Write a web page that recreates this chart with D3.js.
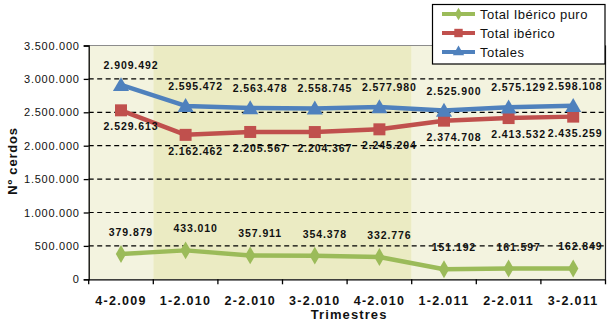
<!DOCTYPE html>
<html>
<head>
<meta charset="utf-8">
<script src="https://cdn.jsdelivr.net/npm/d3@7/dist/d3.min.js"></script>
<style>
  body { margin: 0; background: #fff; }
  svg { display: block; font-family: "Liberation Sans", Arial, sans-serif; }
</style>
</head>
<body>
<svg id="chart" width="612" height="325"></svg>
<script>
// quarters on the x axis
var categories = ["4-2.009", "1-2.010", "2-2.010", "3-2.010", "4-2.010", "1-2.011", "2-2.011", "3-2.011"];
var yTicks = [0, 500000, 1000000, 1500000, 2000000, 2500000, 3000000, 3500000];

var puroValues = [379879, 433010, 357911, 354378, 332776, 151192, 161597, 162849];
var ibericoValues = [2529613, 2162462, 2205567, 2204367, 2245204, 2374708, 2413532, 2435259];
var totalesValues = [2909492, 2595472, 2563478, 2558745, 2577980, 2525900, 2575129, 2598108];

var seriesNames = ["Total Ibérico puro", "Total ibérico", "Totales"];

/** spanish number format : 2.909.492 */
var esFormat = d3.formatLocale({decimal: ",", thousands: ".", grouping: [3], currency: ["", ""]}).format(",d");

var svg = d3.select("#chart");
var plotLeft = 88.7, plotRight = 605.5, plotTop = 45.5, plotBottom = 279.3;
var fontFam = "'Liberation Sans', Arial, sans-serif";

var x = d3.scaleBand().domain(categories).range([plotLeft, plotRight]);
var y = d3.scaleLinear().domain([0, 3500000]).range([plotBottom, plotTop]);

// background bands, one per year
var years = [];
categories.forEach(function(c){
	var yr = c.split("-")[1];
	var b = years.find(function(d){return d.year === yr;});
	if(!b){ years.push({year: yr, first: c, last: c}); }
	else { b.last = c; }
});
svg.append("g").selectAll("rect").data(years).enter().append("rect")
	.attr("x", function(d){return x(d.first);})
	.attr("y", plotTop)
	.attr("width", function(d){return x(d.last) + x.bandwidth() - x(d.first);})
	.attr("height", plotBottom - plotTop)
	.attr("fill", function(d, i){return i % 2 === 1 ? "#ebebc3" : "#f3f3df";});

// grid lines
svg.append("g").selectAll("line").data(yTicks.filter(function(v){return v > 0 && v < 3500000;})).enter().append("line")
	.attr("x1", plotLeft).attr("x2", plotRight)
	.attr("y1", function(d){return y(d);}).attr("y2", function(d){return y(d);})
	.attr("stroke", "#000").attr("stroke-width", 1.2).attr("stroke-dasharray", "5,3.5");

// frame top and right
svg.append("line").attr("x1", plotLeft).attr("x2", plotRight).attr("y1", plotTop).attr("y2", plotTop)
	.attr("stroke", "#8c8c8c").attr("stroke-width", 1.2);
svg.append("line").attr("x1", plotRight).attr("x2", plotRight).attr("y1", plotTop).attr("y2", plotBottom)
	.attr("stroke", "#222").attr("stroke-width", 1.2);

// axes
var yAxis = svg.append("g").attr("transform", "translate(" + plotLeft + ",0)")
	.call(d3.axisLeft(y).tickValues(yTicks).tickFormat(esFormat).tickSize(5).tickPadding(4));
yAxis.attr("font-family", null).attr("font-size", null);
yAxis.select(".domain").attr("stroke", "#000").attr("stroke-width", 1.3);
yAxis.selectAll(".tick line").attr("stroke", "#000").attr("stroke-width", 1.3);
yAxis.selectAll("text").style("font-family", fontFam)
	.style("font-size", "11px").style("letter-spacing", "0.75px").attr("fill", "#111");

var xAxis = svg.append("g").attr("transform", "translate(0," + plotBottom + ")")
	.call(d3.axisBottom(x).tickSize(0).tickPadding(0));
xAxis.attr("font-family", null).attr("font-size", null);
xAxis.select(".domain").attr("stroke", "#000").attr("stroke-width", 1.3);
xAxis.selectAll(".tick text").style("font-family", fontFam)
	.style("font-size", "12.5px").style("font-weight", "bold").style("letter-spacing", "1.3px")
	.attr("fill", "#111").attr("y", 26).attr("dy", 0);
// ticks between categories
svg.append("g").selectAll("line").data(categories.concat(["end"])).enter().append("line")
	.attr("x1", function(d, i){return plotLeft + i * x.step();})
	.attr("x2", function(d, i){return plotLeft + i * x.step();})
	.attr("y1", plotBottom).attr("y2", plotBottom + 5)
	.attr("stroke", "#000").attr("stroke-width", 1.3);

// axis titles
svg.append("text").attr("x", (plotLeft + plotRight) / 2 + 2).attr("y", 319)
	.attr("text-anchor", "middle").style("font-size", "13px").style("font-weight", "bold")
	.style("letter-spacing", "1.1px").attr("fill", "#111").text("Trimestres");
svg.append("text").attr("transform", "translate(17,161) rotate(-90)")
	.attr("text-anchor", "middle").style("font-size", "13px").style("font-weight", "bold")
	.style("letter-spacing", "0.8px").attr("fill", "#111").text("Nº cerdos");

var series = [
	{name: seriesNames[0], values: puroValues, color: "#9bbb59", marker: "diamond", labelDy: -22},
	{name: seriesNames[1], values: ibericoValues, color: "#c0504d", marker: "square", labelDy: 16},
	{name: seriesNames[2], values: totalesValues, color: "#4f81bd", marker: "triangle", labelDy: -20}
];

function markerPath(type, s){
	if(type === "square") return d3.symbol().type(d3.symbolSquare).size(s * s)();
	if(type === "triangle") return d3.symbol().type(d3.symbolTriangle).size(s * s * 0.5)();
	return d3.symbol().type(d3.symbolDiamond).size(s * s * 0.55)();
}
var markerSize = {square: 12, triangle: 15, diamond: 13};

var line = d3.line()
	.x(function(d, i){return x(categories[i]) + x.bandwidth() / 2;})
	.y(function(d){return y(d);});

series.forEach(function(s){
	var g = svg.append("g");
	g.append("path").attr("d", line(s.values)).attr("fill", "none")
		.attr("stroke", s.color).attr("stroke-width", 4.5).attr("stroke-linejoin", "round");
	g.selectAll("path.m").data(s.values).enter().append("path").attr("class", "m")
		.attr("d", markerPath(s.marker, markerSize[s.marker]))
		.attr("transform", function(d, i){
			var dy = s.marker === "triangle" ? 1.5 : 0;
			return "translate(" + (x(categories[i]) + x.bandwidth() / 2) + "," + (y(d) + dy) + ")";
		})
		.attr("fill", s.color);
});

// data labels, kept inside the plot on the right side
series.forEach(function(s){
	svg.append("g").selectAll("text").data(s.values).enter().append("text")
		.attr("y", function(d){return y(d) + s.labelDy + 4;})
		.attr("text-anchor", "middle").style("font-size", "10.5px").style("font-weight", "bold")
		.style("letter-spacing", "0.9px").attr("fill", "#111")
		.text(function(d){return esFormat(d);})
		.attr("x", function(d, i){
			var cx = x(categories[i]) + x.bandwidth() / 2 + 10;
			var w = this.getComputedTextLength();
			return Math.min(cx, plotRight - 3 - w / 2);
		});
});

// legend
var legend = svg.append("g");
legend.append("rect").attr("x", 432.5).attr("y", 4.5).attr("width", 172.5).attr("height", 59.5)
	.attr("fill", "#fff").attr("stroke", "#000").attr("stroke-width", 1.2);
var legendItems = legend.selectAll("g").data(series).enter().append("g")
	.attr("transform", function(d, i){return "translate(0," + (14 + i * 19) + ")";});
legendItems.append("line").attr("x1", 442).attr("x2", 475).attr("y1", 0).attr("y2", 0)
	.attr("stroke", function(d){return d.color;}).attr("stroke-width", 4);
legendItems.append("path")
	.attr("d", function(d){return markerPath(d.marker, markerSize[d.marker] * 0.7);})
	.attr("transform", "translate(458.5,0)")
	.attr("fill", function(d){return d.color;});
legendItems.append("text").attr("x", 480).attr("y", 4.5)
	.style("font-size", "13px").style("letter-spacing", "0.45px").attr("fill", "#111")
	.text(function(d){return d.name;});
</script>
</body>
</html>
